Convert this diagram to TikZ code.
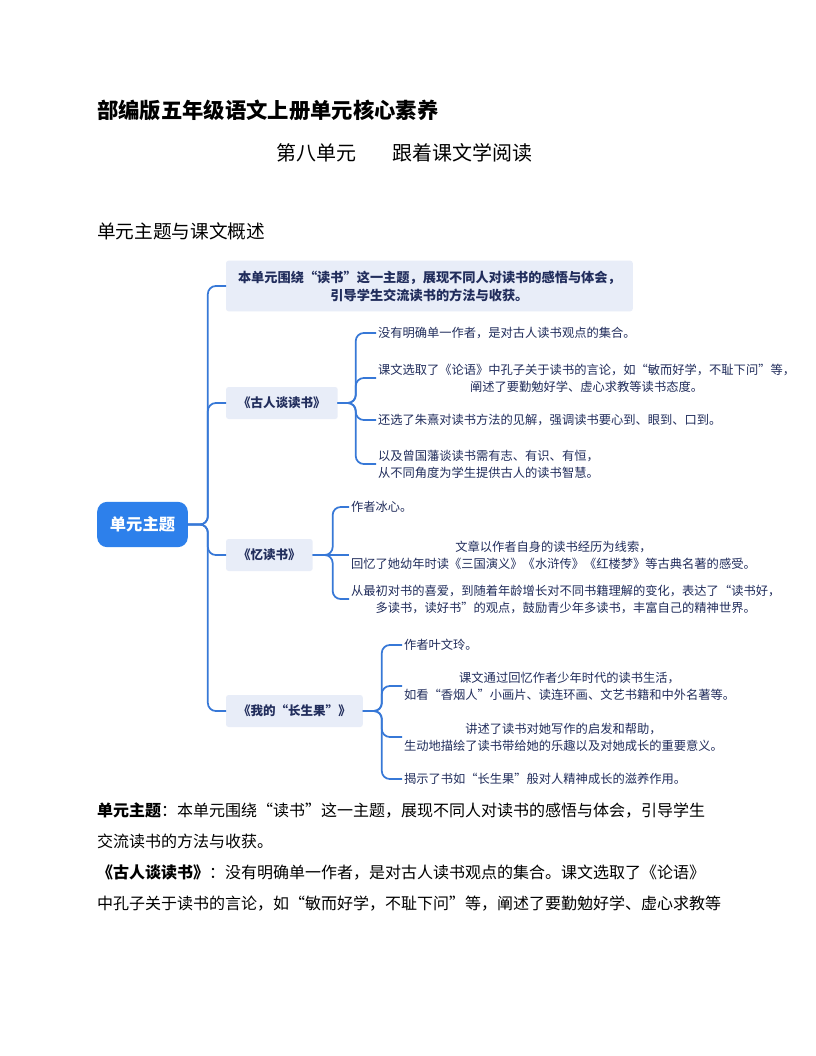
\documentclass[tikz,border=0pt]{standalone}
\usepackage{fontspec}
\setmainfont{Noto Sans CJK SC}
\usetikzlibrary{calc}
\definecolor{rootblue}{RGB}{45,128,235}
\definecolor{linkblue}{RGB}{55,120,215}
\definecolor{boxfill}{RGB}{232,237,248}
\definecolor{navy}{RGB}{33,45,92}
\begin{document}
\begin{tikzpicture}[x=0.75pt,y=-0.75pt,
 every node/.style={inner sep=0pt, outer sep=0pt},
 rootnode/.style={fill=rootblue, rounded corners=7.5pt, minimum width=68pt, minimum height=34pt, text=white, font=\fontsize{12.2}{14}\selectfont\bfseries},
 topic/.style={anchor=west, fill=boxfill, rounded corners=2pt, minimum height=24pt, inner xsep=9pt, text=navy, font=\fontsize{9.4}{12}\selectfont\bfseries},
 leaf/.style={anchor=west, text=navy, align=center, inner xsep=1.5pt, font=\fontsize{9.2}{12.8}\selectfont},
 conn/.style={draw=linkblue, line width=1.3pt, rounded corners=6pt},
 plain/.style={anchor=west, font=\fontsize{12}{14}\selectfont}
]
\fill[white] (0,0) rectangle (816,1056);

\node[anchor=west, font=\fontsize{16}{18}\selectfont\bfseries] (title) at (97,110) {部编版五年级语文上册单元核心素养};
\node[anchor=west, font=\fontsize{15}{18}\selectfont] (sub) at (276,153) {第八单元\hspace{27pt}跟着课文学阅读};
\node[anchor=west, font=\fontsize{14}{16}\selectfont] (sec) at (97,231) {单元主题与课文概述};

\node[rootnode] (root) at (142.5,524.5) {单元主题};
\node[topic, minimum width=304.5pt, minimum height=38pt, align=center, font=\fontsize{9.9}{13.5}\selectfont\bfseries] (top) at (226,286) {本单元围绕“读书”这一主题，展现不同人对读书的感悟与体会，\\引导学生交流读书的方法与收获。};

\node[topic] (b1) at (226,403) {《古人谈读书》};
\node[topic] (b2) at (226,555) {《忆读书》};
\node[topic] (b3) at (226,711) {《我的“长生果”》};

\node[leaf] (l11) at (376,333) {没有明确单一作者，是对古人读书观点的集合。};
\node[leaf] (l12) at (376,378) {课文选取了《论语》中孔子关于读书的言论，如“敏而好学，不耻下问”等，\\阐述了要勤勉好学、虚心求教等读书态度。};
\node[leaf] (l13) at (376,420) {还选了朱熹对读书方法的见解，强调读书要心到、眼到、口到。};
\node[leaf, align=left] (l14) at (376,464) {以及曾国藩谈读书需有志、有识、有恒，\\从不同角度为学生提供古人的读书智慧。};

\node[leaf] (l21) at (349,507) {作者冰心。};
\node[leaf] (l22) at (349,555) {文章以作者自身的读书经历为线索，\\回忆了她幼年时读《三国演义》《水浒传》《红楼梦》等古典名著的感受。};
\node[leaf] (l23) at (349,599) {从最初对书的喜爱，到随着年龄增长对不同书籍理解的变化，表达了“读书好，\\多读书，读好书”的观点，鼓励青少年多读书，丰富自己的精神世界。};

\node[leaf] (l31) at (402,645) {作者叶文玲。};
\node[leaf] (l32) at (402,686) {课文通过回忆作者少年时代的读书生活，\\如看“香烟人”小画片、读连环画、文艺书籍和中外名著等。};
\node[leaf] (l33) at (402,737) {讲述了读书对她写作的启发和帮助，\\生动地描绘了读书带给她的乐趣以及对她成长的重要意义。};
\node[leaf] (l34) at (402,779) {揭示了书如“长生果”般对人精神成长的滋养作用。};

\foreach \t in {top,b1,b2,b3} \draw[conn] (root.east) -- ++(20,0) |- (\t.west);
\foreach \t in {l11,l12,l13,l14} \draw[conn] (b1.east) -- ++(18,0) |- (\t.west);
\foreach \t in {l21,l23} \draw[conn] (b2.east) -- ++(20,0) |- (\t.west);
\draw[conn] (b2.east) -- (l22.west);
\foreach \t in {l31,l32,l33,l34} \draw[conn] (b3.east) -- ++(19,0) |- (\t.west);

\node[plain] (p1) at (97,810) {\textbf{单元主题}：本单元围绕“读书”这一主题，展现不同人对读书的感悟与体会，引导学生};
\node[plain] (p2) at (97,841) {交流读书的方法与收获。};
\node[plain] (p3) at (97,873) {\textbf{《古人谈读书》}：没有明确单一作者，是对古人读书观点的集合。课文选取了《论语》};
\node[plain] (p4) at (97,904) {中孔子关于读书的言论，如“敏而好学，不耻下问”等，阐述了要勤勉好学、虚心求教等};
\end{tikzpicture}
\end{document}
